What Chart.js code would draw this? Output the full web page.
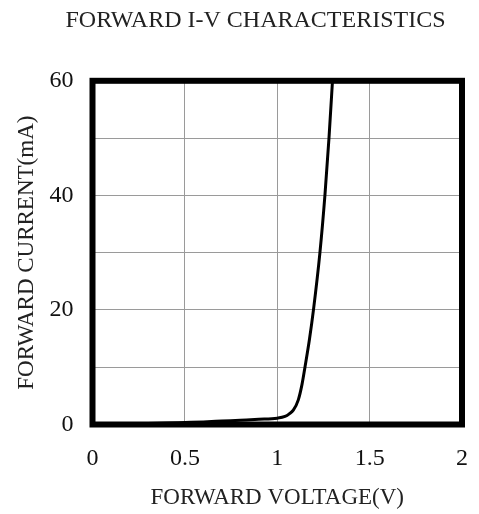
<!DOCTYPE html>
<html>
<head>
<meta charset="utf-8">
<script src="https://cdn.jsdelivr.net/npm/chart.js@4/dist/chart.umd.min.js"></script>
<style>
  html, body { margin: 0; padding: 0; background: #fff; }
  #wrap { width: 479px; height: 514px; position: relative; }
</style>
</head>
<body>
<div id="wrap"><canvas id="c" width="479" height="514"></canvas></div>
<script>
// ---- data ----
const chartTitle = 'FORWARD I-V CHARACTERISTICS';
const xAxisTitle = 'FORWARD VOLTAGE(V)';
const yAxisTitle = 'FORWARD CURRENT(mA)';
const voltage = [0, 0.2, 0.4, 0.5, 0.6, 0.7, 0.8, 0.9, 1.0, 1.042, 1.065, 1.087, 1.114, 1.134, 1.15, 1.175, 1.196, 1.231, 1.258, 1.28, 1.299];
const current = [0, 0.1, 0.25, 0.35, 0.45, 0.6, 0.75, 0.9, 1.1, 1.4, 1.85, 2.5, 4.3, 7, 10, 15, 20, 30, 40, 50, 60];
const xTickLabels = ['0', '0.5', '1', '1.5', '2'];
const yTickLabels = ['0', '', '20', '', '40', '', '60'];

const points = voltage.map((v, i) => ({ x: v, y: current[i] }));
const FONT = "'Liberation Serif', 'Times New Roman', serif";

const framePlugin = {
  id: 'frame',
  afterLayout(chart) {
    if (chart.titleBlock) { chart.titleBlock.left = 32; chart.titleBlock.right = 479; }
  },
  afterDraw(chart) {
    const a = chart.chartArea, ctx = chart.ctx;
    ctx.save();
    ctx.strokeStyle = '#000';
    ctx.lineWidth = 6;
    ctx.lineJoin = 'miter';
    ctx.strokeRect(a.left, a.top, a.right - a.left, a.bottom - a.top);
    ctx.restore();
  }
};

new Chart(document.getElementById('c'), {
  type: 'scatter',
  data: {
    datasets: [{
      data: points,
      showLine: true,
      borderColor: '#000',
      borderWidth: 3,
      pointRadius: 0,
      cubicInterpolationMode: 'monotone',
      fill: false
    }]
  },
  options: {
    responsive: false,
    animation: false,
    layout: { padding: { left: 0, right: 17, top: 0, bottom: 0 } },
    plugins: {
      legend: { display: false },
      tooltip: { enabled: false },
      title: {
        display: true,
        text: chartTitle,
        color: '#222',
        font: { family: FONT, size: 24, weight: 'normal' },
        padding: { top: 6, bottom: 46 }
      }
    },
    scales: {
      x: {
        type: 'linear',
        min: 0, max: 2,
        border: { display: false },
        grid: { color: '#9a9a9a', lineWidth: 1, drawTicks: false },
        ticks: {
          stepSize: 0.5,
          padding: 20,
          color: '#111',
          font: { family: FONT, size: 24 },
          callback: (v, i) => xTickLabels[i]
        },
        title: {
          display: true,
          text: xAxisTitle,
          color: '#222',
          font: { family: FONT, size: 23 },
          padding: { top: 0, bottom: 2 }
        },
        afterFit(s) { s.height = 89.5; s.paddingLeft = 0; s.paddingRight = 0; }
      },
      y: {
        type: 'linear',
        min: 0, max: 60,
        border: { display: false },
        grid: { color: '#9a9a9a', lineWidth: 1, drawTicks: false },
        ticks: {
          stepSize: 10,
          padding: 19,
          color: '#111',
          font: { family: FONT, size: 24 },
          callback: (v, i) => yTickLabels[i]
        },
        title: {
          display: true,
          text: yAxisTitle,
          color: '#222',
          font: { family: FONT, size: 23 },
          padding: { top: 13, bottom: 0 }
        },
        afterFit(s) { s.width = 92.5; }
      }
    }
  },
  plugins: [framePlugin]
});
</script>
</body>
</html>
